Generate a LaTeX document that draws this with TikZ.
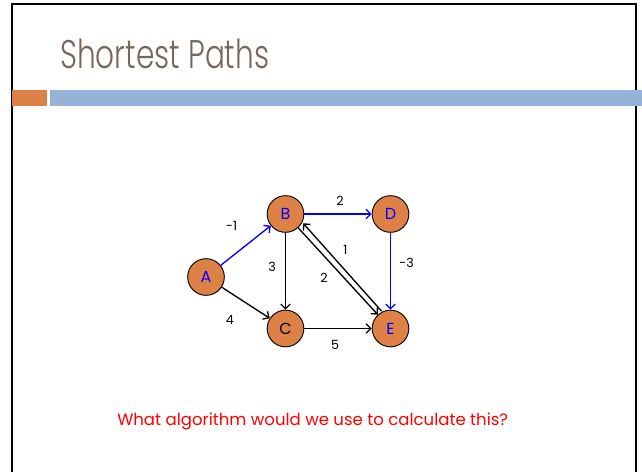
\documentclass[tikz,border=0pt]{standalone}
\usepackage{fontspec}
\usetikzlibrary{arrows.meta}
\setmainfont{Poppins}
\newfontfamily\titlefont[FakeStretch=0.74]{Poppins Light}
\definecolor{nodeorange}{HTML}{DE8147}
\definecolor{barblue}{HTML}{95B3D7}
\definecolor{titlegray}{HTML}{76665C}
\definecolor{spblue}{HTML}{0000FF}
\begin{document}
\begin{tikzpicture}[x=0.75pt, y=-0.75pt,
    vert/.style = {circle, draw, line width=0.7pt, fill=nodeorange, minimum size=27.5pt, inner sep=0pt, font=\fontsize{12}{14}\selectfont},
    arrow/.style = {draw, -{Straight Barb[length=3.5pt, width=7pt]}, line width=1pt},
    spedge/.style = {draw=spblue},
    lbl/.style = {text=black, font=\fontsize{9.5}{11}\selectfont, inner sep=0pt, midway}
]
    \useasboundingbox (0,0) rectangle (642,471);
    % slide frame and header bars
    \draw[line width=1.5pt] (11.5,472) -- (11.5,3.5) -- (636,3.5) -- (636,472);
    \fill[nodeorange] (12,90) rectangle (47,106);
    \fill[barblue] (50,90) rectangle (642,106);
    \node[anchor=base west, text=titlegray, font=\titlefont\fontsize{30}{34}\selectfont, inner sep=0pt] (title) at (60,68) {Shortest Paths};

    \node[vert, text=spblue] (A) at (206,277) {A};
    \node[vert, text=spblue] (B) at (285.5,214) {B};
    \node[vert, text=spblue] (D) at (390.5,214) {D};
    \node[vert] (C) at (285.5,328.5) {C};
    \node[vert, text=spblue] (E) at (390.5,328.5) {E};

    \path[arrow, spedge] (A) -- node[lbl, shift={(-14,-20)}] {-1} (B);
    \path[arrow, spedge] (B) -- node[lbl, shift={(2,-13)}] {2} (D);
    \path[arrow, spedge] (D) -- node[lbl, shift={(16,-8)}] {-3} (E);
    \path[arrow] (A) -- node[lbl, shift={(-16,17)}] {4} (C);
    \path[arrow] (B) -- node[lbl, shift={(-13.5,-4)}] {3} (C);
    \path[arrow] (C) -- node[lbl, shift={(-3,16.5)}] {5} (E);
    \path[arrow] (B) -- node[lbl, shift={(-14,7)}] {2} (E);
    \path[arrow] ([shift={(4.4,-4)}]E.north west) -- node[lbl, shift={(3,-17)}] {1} ([shift={(4.4,-4)}]B.south east);

    \node[anchor=base west, text=red, font=\fontsize{12.4}{15}\selectfont, inner sep=0pt] (question) at (117,425) {What algorithm would we use to calculate this?};
\end{tikzpicture}
\end{document}
